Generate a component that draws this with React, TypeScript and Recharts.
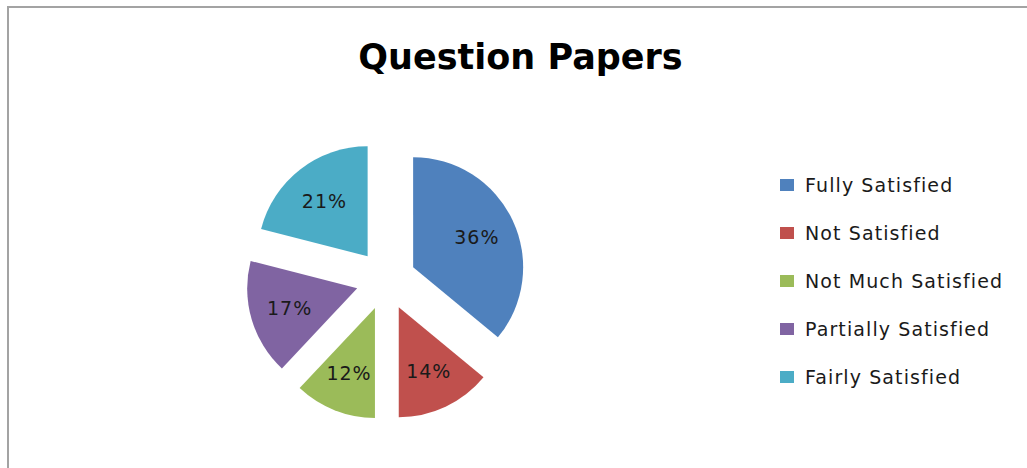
import React from "react";
import { PieChart, Pie, Cell, Legend } from "recharts";

const categories = [
  "Fully Satisfied",
  "Not Satisfied",
  "Not Much Satisfied",
  "Partially Satisfied",
  "Fairly Satisfied",
];
const shares = [36, 14, 12, 17, 21];
const colors = ["#4F81BD", "#C0504D", "#9BBB59", "#8064A2", "#4BACC6"];

const data = categories.map((name, i) => ({ name, value: shares[i] }));

const FONT = "'DejaVu Sans', sans-serif";
const EXPLODE = 30;
const RADIAN = Math.PI / 180;
const total = shares.reduce((a, b) => a + b, 0);

// exploded slices: push each one out along its own middle angle (clockwise from 12 o'clock)
const offsets = shares.map((v, i) => {
  const before = shares.slice(0, i).reduce((a, b) => a + b, 0);
  const mid = ((before + v / 2) / total) * 360;
  return {
    dx: Math.sin(mid * RADIAN) * EXPLODE,
    dy: -Math.cos(mid * RADIAN) * EXPLODE,
  };
});

const renderLabel = (props: any) => {
  const { cx, cy, midAngle, outerRadius, percent } = props;
  const r = EXPLODE + outerRadius * 0.64;
  const x = cx + r * Math.cos(-midAngle * RADIAN);
  const y = cy + r * Math.sin(-midAngle * RADIAN);
  return (
    <text
      x={x}
      y={y}
      textAnchor="middle"
      dominantBaseline="central"
      fill="#1a1a1a"
      style={{ fontFamily: FONT, fontSize: 19, letterSpacing: 1 }}
    >
      {`${Math.round(percent * 100)}%`}
    </text>
  );
};

// keep the legend in data order (recharts sorts it by name otherwise)
const renderLegend = (props: any) => {
  const items = [...(props.payload || [])].sort(
    (a: any, b: any) => categories.indexOf(a.value) - categories.indexOf(b.value)
  );
  return (
    <div style={{ fontFamily: FONT }}>
      {items.map((entry: any, i: number) => (
        <div
          key={`leg-${i}`}
          style={{ display: "flex", alignItems: "center", height: 48 }}
        >
          <span
            style={{
              display: "inline-block",
              width: 14,
              height: 12,
              background: entry.color,
              marginRight: 11,
            }}
          />
          <span style={{ fontSize: 19, letterSpacing: 1.1, color: "#1a1a1a" }}>
            {entry.value}
          </span>
        </div>
      ))}
    </div>
  );
};

export default function App() {
  return (
    <div
      style={{
        position: "absolute",
        left: 0,
        top: 0,
        width: 1027,
        height: 468,
        overflow: "hidden",
        background: "#fff",
      }}
    >
      <div
        style={{
          position: "absolute",
          left: 7,
          top: 6,
          right: -10,
          bottom: -10,
          borderTop: "2px solid #a3a3a3",
          borderLeft: "2px solid #a3a3a3",
        }}
      />
      <div
        style={{
          position: "absolute",
          left: 0,
          width: 1041,
          top: 37,
          textAlign: "center",
          fontFamily: FONT,
          fontWeight: "bold",
          fontSize: 35,
          lineHeight: "40px",
          color: "#000",
        }}
      >
        Question Papers
      </div>
      <div style={{ position: "absolute", left: 0, top: 0 }}>
        <PieChart
          width={1027}
          height={468}
          margin={{ top: 0, right: 0, bottom: 0, left: 0 }}
        >
          <Pie
            data={data}
            dataKey="value"
            nameKey="name"
            cx={386}
            cy={280}
            outerRadius={110}
            startAngle={90}
            endAngle={-270}
            stroke="none"
            label={renderLabel}
            labelLine={false}
            isAnimationActive={false}
          >
            {data.map((d, i) => (
              <Cell
                key={d.name}
                fill={colors[i]}
                transform={`translate(${offsets[i].dx}, ${offsets[i].dy})`}
              />
            ))}
          </Pie>
          <Legend
            layout="vertical"
            align="right"
            verticalAlign="top"
            content={renderLegend}
            wrapperStyle={{ left: 780, top: 161, width: 245 }}
          />
        </PieChart>
      </div>
    </div>
  );
}
